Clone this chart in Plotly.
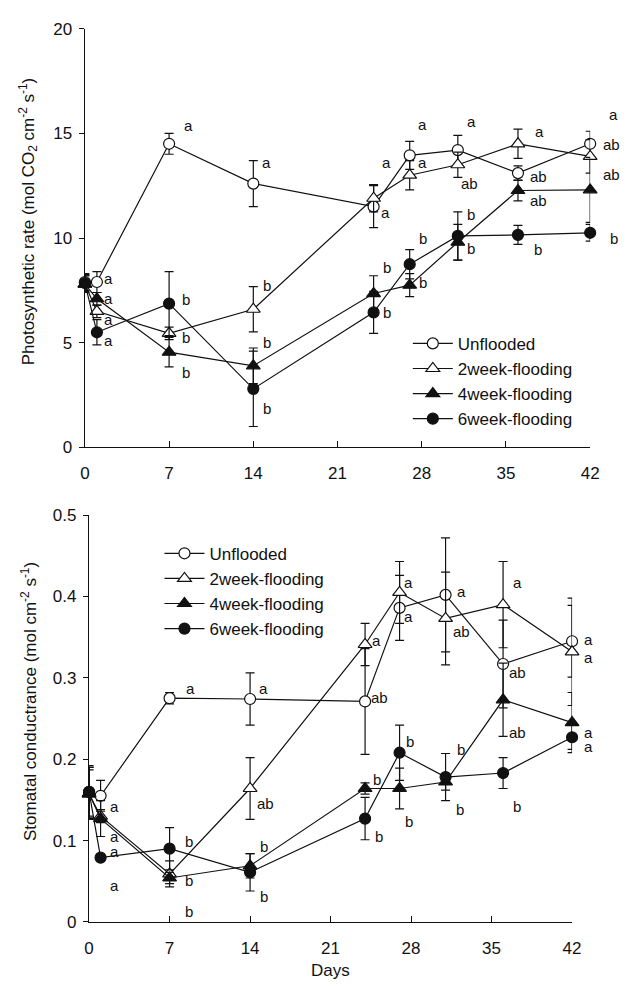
import plotly.graph_objects as go

# ---------------- data ----------------
days = [0, 1, 7, 14, 24, 27, 31, 36, 42]
series_names = ["Unflooded", "2week-flooding", "4week-flooding", "6week-flooding"]
x_ticks = [0, 7, 14, 21, 28, 35, 42]

# Photosynthetic rate
pn_unflooded = [7.9, 7.9, 14.5, 12.6, 11.5, 13.95, 14.2, 13.1, 14.5]
pn_unflooded_err = [0.4, 0.5, 0.5, 1.1, 1.0, 0.67, 0.7, 0.35, 0.6]
pn_2week = [7.8, 6.5, 5.45, 6.6, 11.9, 13.0, 13.5, 14.5, 13.9]
pn_2week_err = [0.4, 0.3, 0.3, 1.08, 0.65, 0.7, 0.6, 0.7, 0.8]
pn_4week = [7.8, 7.1, 4.55, 3.9, 7.35, 7.75, 9.8, 12.27, 12.3]
pn_4week_err = [0.4, 0.3, 0.7, 0.85, 0.85, 0.55, 0.85, 0.5, 1.55]
pn_6week = [7.85, 5.5, 6.87, 2.8, 6.45, 8.75, 10.1, 10.15, 10.25]
pn_6week_err = [0.4, 0.6, 1.53, 1.8, 1.0, 0.7, 1.15, 0.45, 0.4]

# Stomatal conductance
gs_unflooded = [0.16, 0.155, 0.275, 0.274, 0.271, 0.386, 0.402, 0.317, 0.345]
gs_unflooded_err = [0.032, 0.019, 0.007, 0.032, 0.065, 0.04, 0.07, 0.054, 0.044]
gs_2week = [0.157, 0.13, 0.059, 0.164, 0.341, 0.405, 0.373, 0.390, 0.332]
gs_2week_err = [0.03, 0.008, 0.016, 0.038, 0.026, 0.038, 0.057, 0.053, 0.066]
gs_4week = [0.158, 0.127, 0.054, 0.069, 0.164, 0.164, 0.172, 0.273, 0.245]
gs_4week_err = [0.032, 0.022, 0.007, 0.015, 0.007, 0.025, 0.01, 0.045, 0.037]
gs_6week = [0.16, 0.079, 0.090, 0.061, 0.127, 0.208, 0.178, 0.183, 0.227]
gs_6week_err = [0.03, 0.003, 0.026, 0.023, 0.026, 0.034, 0.029, 0.019, 0.015]

# significance letters (day, value, label)
pn_letters = [
    (8.6, 15.35, "a"), (15.1, 13.6, "a"),
    (2.0, 8.05, "a"), (2.0, 7.1, "a"), (2.0, 6.1, "a"), (2.0, 5.1, "a"),
    (8.4, 7.05, "b"), (8.4, 5.25, "b"), (8.4, 3.6, "b"),
    (15.1, 7.75, "b"), (15.1, 5.0, "b"), (15.1, 1.85, "b"),
    (25.1, 13.6, "a"), (25.0, 11.2, "a"), (25.1, 8.6, "b"), (25.1, 6.45, "b"),
    (28.1, 15.4, "a"), (28.1, 13.6, "a"), (28.1, 10.0, "b"), (28.1, 7.9, "b"),
    (32.1, 15.55, "a"), (32.0, 12.6, "ab"), (32.1, 11.1, "b"), (32.1, 9.5, "b"),
    (37.8, 15.1, "a"), (37.7, 12.95, "ab"), (37.7, 11.8, "ab"), (37.7, 9.45, "b"),
    (43.9, 15.9, "a"), (43.7, 14.45, "ab"), (43.7, 13.05, "ab"), (43.9, 10.0, "b"),
]
gs_letters = [
    (2.18, 0.1414, "a"), (2.18, 0.1045, "a"), (2.18, 0.0864, "a"), (2.18, 0.045, "a"),
    (8.8, 0.287, "a"), (8.7, 0.0993, "b"), (8.7, 0.051, "b"), (8.7, 0.0129, "b"),
    (15.2, 0.287, "a"), (15.37, 0.146, "ab"), (15.17, 0.0924, "b"), (15.17, 0.031, "b"),
    (25.0, 0.3463, "a"), (25.23, 0.276, "ab"), (25.06, 0.1755, "b"), (25.23, 0.1045, "b"),
    (27.78, 0.4173, "a"), (27.78, 0.375, "a"), (27.9, 0.2217, "b"), (27.83, 0.124, "b"),
    (32.37, 0.4065, "a"), (32.37, 0.357, "ab"), (32.37, 0.2117, "b"), (32.29, 0.138, "b"),
    (37.27, 0.4173, "a"), (37.27, 0.307, "ab"), (37.27, 0.2325, "ab"), (37.24, 0.142, "b"),
    (43.42, 0.347, "a"), (43.42, 0.325, "a"), (43.42, 0.2325, "a"), (43.42, 0.215, "a"),
]

# ---------------- figure ----------------
W, H = 628, 994
FONT = "Arial, Liberation Sans, Helvetica, sans-serif"
INK = "#111111"
X_MAX = 42

symbols = ["circle", "triangle-up", "triangle-up", "circle"]
fills = ["white", "white", INK, INK]
sizes = [11, 12, 12, 11]

pn_vals = [pn_unflooded, pn_2week, pn_4week, pn_6week]
pn_errs = [pn_unflooded_err, pn_2week_err, pn_4week_err, pn_6week_err]
gs_vals = [gs_unflooded, gs_2week, gs_4week, gs_6week]
gs_errs = [gs_unflooded_err, gs_2week_err, gs_4week_err, gs_6week_err]

fig = go.Figure()

def add_series(vals, errs, xa, ya, legend):
    for i, name in enumerate(series_names):
        fig.add_trace(go.Scatter(
            x=days, y=vals[i], name=name, mode="lines+markers",
            xaxis=xa, yaxis=ya, legend=legend, cliponaxis=False,
            line=dict(color=INK, width=1.2),
            marker=dict(symbol=symbols[i], size=sizes[i], color=fills[i],
                        line=dict(color=INK, width=1.2)),
            error_y=dict(type="data", array=errs[i], visible=True,
                         color=INK, thickness=1.2, width=4.5),
        ))

add_series(pn_vals, pn_errs, "x", "y", "legend")
add_series(gs_vals, gs_errs, "x2", "y2", "legend2")

def px_x(p):
    return p / W

def px_y(p):
    return 1 - p / H

top_dom = [px_x(81.7), px_x(598.5)]
bot_dom = [px_x(86), px_x(580)]

axis_common = dict(showline=True, linecolor=INK, linewidth=1.4, showgrid=False,
                   zeroline=False, tickcolor=INK, tickwidth=1.2,
                   tickfont=dict(family=FONT, size=17, color=INK))

fig.update_layout(
    width=W, height=H, margin=dict(l=0, r=0, t=0, b=0),
    paper_bgcolor="white", plot_bgcolor="white",
    font=dict(family=FONT, size=17, color=INK),
    xaxis=dict(domain=top_dom, anchor="y", range=[0, X_MAX],
               tickvals=x_ticks, ticks="inside", ticklen=6,
               ticklabelstandoff=10, **axis_common),
    yaxis=dict(domain=[px_y(447), px_y(20)], anchor="x", range=[0, 20],
               tickvals=[0, 5, 10, 15, 20], ticks="outside", ticklen=5,
               ticklabelstandoff=3, **axis_common),
    xaxis2=dict(domain=bot_dom, anchor="y2", range=[0, X_MAX],
                tickvals=x_ticks, ticks="inside", ticklen=6,
                ticklabelstandoff=10, **axis_common),
    yaxis2=dict(domain=[px_y(930.7), px_y(516)], anchor="x2", range=[0, 0.5],
                tickvals=[0, 0.1, 0.2, 0.3, 0.4, 0.5], ticks="outside", ticklen=5,
                ticklabelstandoff=3, **axis_common),
    legend=dict(x=px_x(412), y=px_y(323), xanchor="left", yanchor="top",
                bgcolor="rgba(0,0,0,0)", itemwidth=40, tracegroupgap=0,
                font=dict(family=FONT, size=17, color=INK)),
    legend2=dict(x=px_x(158), y=px_y(537), xanchor="left", yanchor="top",
                 bgcolor="rgba(0,0,0,0)", itemwidth=40, tracegroupgap=0,
                 font=dict(family=FONT, size=17, color=INK)),
    showlegend=True,
)

def letter_annots(letters, xref, yref, dom):
    # letters beyond the axis end are anchored at the axis end and shifted
    # by the axis scale (plotly hides data-anchored annotations out of range)
    px_per_day = (dom[1] - dom[0]) * W / X_MAX
    out = []
    for d, v, t in letters:
        xs = 0
        xd = d
        if d > X_MAX:
            xs = (d - X_MAX) * px_per_day
            xd = X_MAX
        out.append(dict(x=xd, y=v, xref=xref, yref=yref, text=t, showarrow=False,
                        xshift=xs, xanchor="center", yanchor="middle",
                        font=dict(family=FONT, size=15, color=INK)))
    return out

annotations = letter_annots(pn_letters, "x", "y", top_dom) + \
    letter_annots(gs_letters, "x2", "y2", bot_dom)

annotations.append(dict(
    x=px_x(24), y=px_y(216), xref="paper", yref="paper", textangle=-90,
    xanchor="center", yanchor="middle",
    text="Photosynthetic rate (mol CO<sub>2</sub> cm<sup>-2</sup> s<sup>-1</sup>)",
    showarrow=False, font=dict(family=FONT, size=17, color=INK)))
annotations.append(dict(
    x=px_x(24), y=px_y(706), xref="paper", yref="paper", textangle=-90,
    xanchor="center", yanchor="middle",
    text="Stomatal conductrance (mol cm<sup>-2</sup> s<sup>-1</sup>)",
    showarrow=False, font=dict(family=FONT, size=17, color=INK)))
annotations.append(dict(
    x=px_x(333), y=px_y(980), xref="paper", yref="paper", text="Days",
    xanchor="center", yanchor="middle",
    showarrow=False, font=dict(family=FONT, size=17, color=INK)))

fig.update_layout(annotations=annotations)

fig.write_html(
    "out.html",
    config={"displayModeBar": False},
    post_script="document.body.style.margin='0';document.body.style.overflow='hidden';",
)
